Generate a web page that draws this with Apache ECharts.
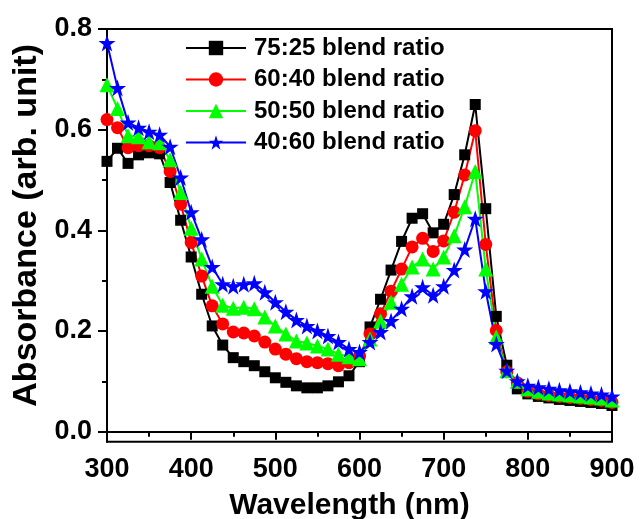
<!DOCTYPE html>
<html>
<head>
<meta charset="utf-8">
<script src="https://cdn.jsdelivr.net/npm/echarts@6/dist/echarts.min.js"></script>
<style>html,body{margin:0;padding:0;background:#fff;}#c{width:640px;height:519px;}</style>
</head>
<body>
<div id="c"></div>
<script>
var wavelengths = [300,312.5,325,337.5,350,362.5,375,387.5,400,412.5,425,437.5,450,462.5,475,487.5,500,512.5,525,537.5,550,562.5,575,587.5,600,612.5,625,637.5,650,662.5,675,687.5,700,712.5,725,737.5,750,762.5,775,787.5,800,812.5,825,837.5,850,862.5,875,887.5,900];
var ratio7525 = [0.537,0.563,0.533,0.55,0.554,0.552,0.495,0.42,0.347,0.273,0.21,0.172,0.147,0.139,0.131,0.119,0.107,0.098,0.091,0.087,0.087,0.091,0.099,0.111,0.139,0.208,0.263,0.321,0.378,0.424,0.433,0.395,0.412,0.471,0.55,0.65,0.443,0.229,0.132,0.085,0.075,0.07,0.067,0.064,0.062,0.06,0.058,0.056,0.052];
var ratio6040 = [0.62,0.604,0.564,0.568,0.568,0.564,0.517,0.452,0.376,0.309,0.25,0.214,0.198,0.196,0.19,0.178,0.164,0.154,0.145,0.139,0.137,0.135,0.131,0.137,0.15,0.194,0.234,0.279,0.323,0.367,0.384,0.358,0.379,0.436,0.51,0.598,0.372,0.201,0.119,0.097,0.08,0.075,0.072,0.07,0.068,0.066,0.064,0.062,0.058];
var ratio5050 = [0.689,0.642,0.588,0.586,0.576,0.574,0.54,0.475,0.404,0.343,0.289,0.251,0.245,0.247,0.244,0.228,0.21,0.194,0.18,0.176,0.17,0.164,0.154,0.149,0.145,0.184,0.22,0.257,0.293,0.327,0.343,0.323,0.347,0.389,0.447,0.517,0.323,0.188,0.121,0.1,0.085,0.08,0.077,0.075,0.073,0.071,0.069,0.067,0.063];
var ratio4060 = [0.772,0.683,0.614,0.604,0.596,0.59,0.566,0.505,0.436,0.382,0.327,0.293,0.289,0.293,0.295,0.277,0.257,0.238,0.222,0.21,0.2,0.19,0.178,0.164,0.158,0.178,0.198,0.22,0.244,0.269,0.287,0.271,0.289,0.321,0.362,0.423,0.279,0.174,0.121,0.1,0.091,0.088,0.085,0.082,0.08,0.078,0.076,0.074,0.07];
var seriesNames = ['75:25 blend ratio','60:40 blend ratio','50:50 blend ratio','40:60 blend ratio'];
var yMajorTicks = [0, 0.2, 0.4, 0.6, 0.8];
var yMinorTicks = [0.1, 0.3, 0.5, 0.7];

var FONT = 'Liberation Sans, Arial, sans-serif';
var STAR = 'path://M50,0 L61.8,35.4 L99,35.4 L69.1,57.3 L80.3,92.7 L50,70.8 L19.7,92.7 L30.9,57.3 L1,35.4 L38.2,35.4 Z';
function pairs(vals){ return vals.map(function(v,i){ return [wavelengths[i], v]; }); }
function mk(name, vals, color, symbol, size){
  return { name: name, type: 'line', data: pairs(vals), symbol: symbol, symbolSize: size,
    lineStyle: { color: color, width: 2 }, itemStyle: { color: color }, showSymbol: true, animation: false };
}
var chart = echarts.init(document.getElementById('c'));
chart.setOption({
  backgroundColor: '#fff',
  animation: false,
  grid: { left: 107, top: 29, width: 505, height: 412.7, show: true, borderColor: '#000', borderWidth: 2, backgroundColor: 'transparent', containLabel: false, outerBoundsMode: 'none' },
  legend: {
    orient: 'vertical', left: 185, top: 36, padding: 0, itemGap: 7.5,
    itemWidth: 60, itemHeight: 18,
    textStyle: { fontFamily: FONT, fontWeight: 'bold', fontSize: 24, color: '#000', padding: [0,0,0,3] },
    data: seriesNames
  },
  xAxis: {
    type: 'value', min: 300, max: 900, interval: 100,
    name: 'Wavelength (nm)', nameLocation: 'middle', nameGap: 49,
    nameTextStyle: { fontFamily: FONT, fontWeight: 'bold', fontSize: 30, color: '#000', padding: [0,20,0,0] },
    axisLine: { show: true, lineStyle: { color: '#000', width: 2 } },
    axisTick: { show: true, length: 8, lineStyle: { color: '#000', width: 2 } },
    minorTick: { show: true, splitNumber: 2, length: 5, lineStyle: { color: '#000', width: 2 } },
    axisLabel: { fontFamily: FONT, fontWeight: 'bold', fontSize: 27, color: '#000', margin: 14 },
    splitLine: { show: false }
  },
  yAxis: [{
    type: 'value', min: -0.02, max: 0.8,
    name: 'Absorbance (arb. unit)', nameLocation: 'middle', nameGap: 60,
    nameTextStyle: { fontFamily: FONT, fontWeight: 'bold', fontSize: 34, color: '#000', padding: [0,0,0,20] },
    axisLine: { show: true, lineStyle: { color: '#000', width: 2 } },
    axisTick: { show: true, length: 9, customValues: yMajorTicks, lineStyle: { color: '#000', width: 2 } },
    axisLabel: { fontFamily: FONT, fontWeight: 'bold', fontSize: 27, color: '#000', margin: 15, customValues: yMajorTicks,
      formatter: function(v){ return v.toFixed(1); } },
    splitLine: { show: false }
  },{
    type: 'value', min: -0.02, max: 0.8, position: 'left',
    axisLine: { show: false },
    axisTick: { show: true, length: 5, customValues: yMinorTicks, lineStyle: { color: '#000', width: 2 } },
    axisLabel: { show: false, customValues: yMinorTicks },
    splitLine: { show: false }
  }],
  series: [
    mk(seriesNames[0], ratio7525, '#000000', 'rect', 11),
    mk(seriesNames[1], ratio6040, '#ff0000', 'circle', 13),
    mk(seriesNames[2], ratio5050, '#00ff00', 'triangle', 15),
    mk(seriesNames[3], ratio4060, '#0000ff', STAR, 17)
  ]
});
</script>
</body>
</html>
